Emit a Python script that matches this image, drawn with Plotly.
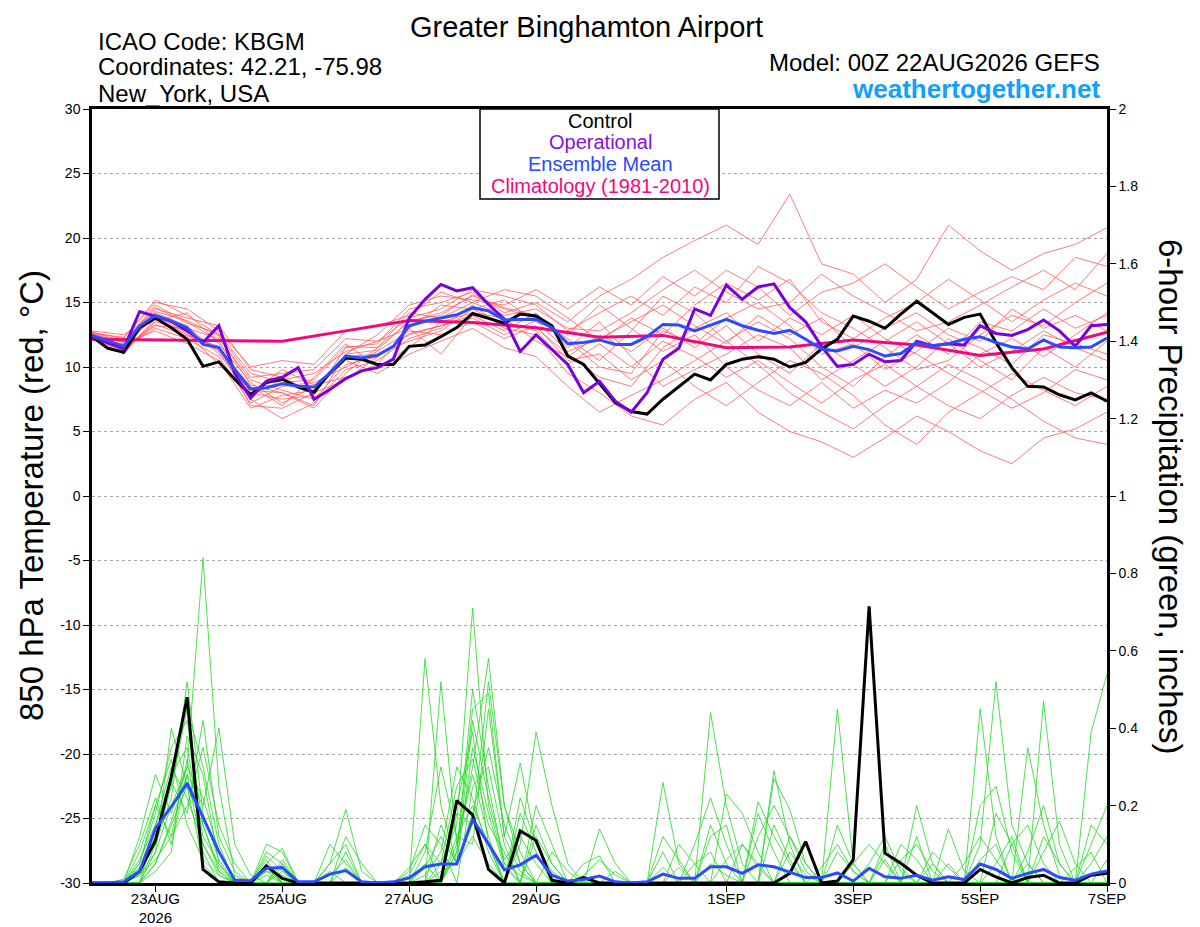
import pandas as pd
import plotly.graph_objects as go

# 6-hourly forecast steps, 00Z 22AUG2026 to 00Z 07SEP2026
times = pd.date_range("2026-08-22 00:00", periods=65, freq="6h")
times_12h = times[::2]
clim_days = pd.date_range("2026-08-22", periods=17, freq="D")

tick_dates = ["2026-08-23", "2026-08-25", "2026-08-27", "2026-08-29",
              "2026-09-01", "2026-09-03", "2026-09-05", "2026-09-07"]
tick_text = ["23AUG<br>2026", "25AUG", "27AUG", "29AUG", "1SEP", "3SEP", "5SEP", "7SEP"]

# 850 hPa temperature (C)
control_t = [12.35, 11.45, 11.15, 13.05, 13.8, 13.05, 12.15, 10.05, 10.4, 9.05, 7.85,
             8.8, 9.05, 8.45, 8.05, 9.55, 10.7, 10.6, 10.2, 10.2, 11.6, 11.7,
             12.35, 13.05, 14.15, 13.8, 13.4, 14.1, 13.95, 13.2, 10.85, 10.2, 8.7,
             7.25, 6.55, 6.35, 7.5, 8.45, 9.45, 9.0, 10.2, 10.6, 10.8, 10.6,
             10.0, 10.35, 11.4, 12.15, 13.95, 13.55, 13.0, 14.1, 15.1, 14.2, 13.3,
             13.85, 14.1, 11.9, 9.95, 8.5, 8.45, 7.85, 7.45, 8.0, 7.35]
oper_t = [12.35, 11.9, 11.4, 14.3, 13.9, 13.55, 12.8, 11.9, 13.2, 9.5, 7.6,
          8.9, 9.2, 9.95, 7.5, 8.25, 9.1, 9.7, 9.95, 10.6, 13.8, 15.25,
          16.4, 15.9, 16.15, 14.85, 13.7, 11.2, 12.5, 11.35, 10.2, 8.0, 8.9,
          7.35, 6.5, 8.0, 10.6, 11.45, 14.5, 14.0, 16.35, 15.25, 16.2, 16.45,
          14.6, 13.5, 11.6, 10.05, 10.2, 11.0, 10.4, 10.5, 12.0, 11.65, 11.8,
          11.7, 13.2, 12.6, 12.45, 12.9, 13.65, 12.8, 11.6, 13.2, 13.3]
mean_t = [12.45, 12.0, 11.6, 13.15, 14.0, 13.55, 13.05, 11.75, 11.5, 9.8, 8.3,
          8.4, 8.7, 8.5, 8.45, 9.55, 10.85, 10.7, 10.9, 11.6, 13.2, 13.55,
          13.8, 14.05, 14.6, 14.35, 13.65, 13.65, 13.7, 13.05, 11.8, 11.9, 12.1,
          11.75, 11.75, 12.35, 13.3, 13.25, 12.8, 13.25, 13.7, 13.2, 12.85, 12.6,
          12.85, 12.15, 11.4, 11.25, 11.6, 11.35, 10.85, 11.05, 11.9, 11.65, 11.8,
          12.15, 12.35, 11.9, 11.55, 11.4, 12.1, 11.55, 11.5, 11.55, 12.25]
clim_t = [12.15, 12.1, 12.05, 12.0, 12.8, 13.6, 13.45, 13.05, 12.3,
          12.45, 11.5, 11.55, 12.1, 11.7, 10.9, 11.4, 12.7]

# ensemble members, 12-hourly
member_t = [
    [12.6, 11.9, 14.8, 13.5, 12.0, 8.0, 7.5, 7.8, 11.5, 11.8, 14.5,
     15.0, 15.8, 14.2, 15.0, 13.5, 15.5, 16.8, 18.5, 19.8, 21.0, 19.5,
     23.4, 18.0, 17.2, 15.0, 16.8, 21.0, 19.0, 17.5, 18.8, 19.5, 20.8],
    [12.3, 11.2, 13.5, 12.8, 11.2, 7.5, 6.0, 7.2, 9.8, 10.5, 12.2,
     13.0, 14.8, 13.0, 12.5, 9.5, 8.0, 6.2, 5.5, 7.5, 8.8, 6.5,
     5.0, 4.2, 3.0, 4.5, 6.2, 5.0, 3.5, 2.5, 4.5, 5.2, 6.5],
    [12.7, 12.2, 15.2, 14.0, 12.5, 9.2, 9.5, 9.8, 12.2, 12.0, 13.8,
     14.5, 16.0, 15.5, 14.8, 12.8, 14.2, 15.5, 14.0, 16.2, 15.0, 17.8,
     16.5, 14.2, 13.0, 11.5, 9.8, 10.5, 12.5, 14.0, 13.2, 15.0, 16.5],
    [12.2, 11.5, 13.0, 12.2, 10.8, 7.2, 8.5, 8.8, 10.0, 11.2, 12.8,
     12.5, 13.5, 12.2, 13.2, 10.5, 11.0, 9.0, 10.5, 8.5, 7.0, 8.8,
     10.5, 9.5, 7.8, 5.5, 4.0, 6.5, 8.0, 9.5, 8.2, 7.0, 8.5],
    [12.5, 12.0, 14.5, 13.8, 13.2, 9.8, 9.2, 8.0, 11.0, 12.5, 14.8,
     15.5, 15.2, 14.8, 16.0, 14.5, 16.2, 14.8, 17.0, 15.5, 17.5, 16.2,
     14.0, 15.8, 16.5, 18.0, 16.2, 14.5, 15.8, 17.0, 16.0, 18.5, 17.8],
    [12.4, 11.0, 13.8, 12.5, 11.5, 8.5, 7.0, 9.2, 11.8, 10.0, 11.5,
     13.5, 14.2, 13.8, 12.0, 10.8, 12.5, 11.2, 13.0, 11.5, 13.2, 11.0,
     9.5, 11.8, 10.2, 8.5, 10.0, 12.2, 10.5, 9.0, 11.5, 10.0, 12.0],
    [12.8, 12.5, 14.2, 13.2, 11.0, 8.2, 8.0, 6.8, 9.5, 11.5, 13.5,
     14.2, 15.5, 14.5, 13.8, 12.2, 10.5, 12.8, 15.5, 14.2, 12.0, 13.5,
     12.2, 10.0, 8.5, 10.8, 12.5, 11.0, 13.5, 12.8, 14.5, 13.0, 14.0],
    [12.1, 11.8, 12.8, 11.8, 10.5, 6.8, 7.8, 8.2, 10.5, 9.5, 11.0,
     12.0, 13.0, 11.5, 10.8, 8.5, 6.5, 7.8, 9.0, 10.5, 12.0, 10.2,
     8.0, 6.5, 5.2, 7.0, 8.5, 10.2, 9.0, 7.5, 5.8, 4.5, 4.0],
    [12.6, 12.3, 15.0, 14.5, 12.8, 10.0, 10.5, 10.2, 12.8, 13.2, 14.0,
     15.8, 15.0, 16.0, 15.5, 13.8, 12.0, 13.8, 12.5, 14.8, 16.5, 15.2,
     16.8, 13.5, 12.2, 13.8, 15.0, 16.8, 15.2, 13.5, 15.2, 16.5, 15.5],
    [12.3, 11.4, 13.2, 13.0, 12.2, 9.0, 8.2, 7.5, 10.2, 10.8, 12.5,
     13.2, 14.0, 12.8, 14.2, 11.5, 13.5, 10.8, 8.5, 9.8, 11.0, 12.5,
     11.5, 9.0, 10.5, 12.0, 13.5, 11.8, 10.0, 11.2, 12.8, 11.5, 10.5],
    [12.5, 11.6, 14.0, 12.6, 10.2, 7.8, 9.0, 9.5, 11.2, 12.0, 13.0,
     14.8, 14.5, 13.2, 13.0, 11.0, 9.2, 8.5, 11.5, 13.0, 14.2, 12.0,
     13.8, 12.5, 14.0, 12.2, 11.0, 9.5, 8.2, 6.8, 8.0, 9.8, 9.0],
    [12.2, 11.3, 13.6, 14.2, 11.8, 8.8, 7.2, 8.5, 10.8, 11.0, 12.0,
     12.8, 14.5, 15.2, 13.5, 12.5, 14.8, 13.0, 11.2, 12.5, 10.0, 8.2,
     7.0, 8.8, 6.8, 8.2, 7.2, 8.8, 11.0, 12.2, 10.8, 12.5, 14.2],
    [12.7, 12.0, 14.6, 13.4, 12.6, 9.5, 8.8, 9.0, 11.6, 11.5, 14.2,
     13.8, 15.0, 14.0, 14.5, 13.0, 12.8, 14.2, 16.0, 17.5, 15.8, 14.5,
     15.0, 17.2, 15.5, 14.2, 12.8, 13.5, 14.8, 16.2, 17.5, 16.0, 18.8],
    [12.4, 11.7, 13.9, 12.9, 11.3, 8.0, 9.8, 8.6, 9.2, 10.2, 13.0,
     11.0, 14.0, 13.5, 12.8, 10.2, 11.8, 10.0, 12.0, 10.8, 9.2, 10.5,
     8.8, 7.2, 9.0, 10.2, 8.5, 7.0, 6.0, 7.8, 9.2, 8.0, 7.5],
    [12.5, 11.9, 14.3, 13.6, 12.4, 8.6, 8.0, 7.0, 11.0, 11.3, 13.6,
     14.0, 15.6, 14.6, 14.0, 12.0, 10.0, 9.5, 12.8, 11.8, 13.8, 15.0,
     13.2, 11.0, 11.8, 9.8, 11.2, 13.0, 12.0, 14.5, 13.0, 14.0, 12.8],
    [12.3, 11.5, 13.3, 12.4, 11.6, 7.0, 6.8, 8.0, 9.0, 10.8, 12.6,
     13.2, 13.8, 12.5, 13.6, 11.2, 12.2, 13.5, 14.8, 13.2, 11.8, 14.0,
     12.5, 13.8, 11.5, 13.0, 14.2, 12.5, 11.5, 10.2, 12.5, 11.8, 11.0],
]

# 6-hour precipitation (inches)
control_p = [0, 0, 0, 0.03, 0.11, 0.275, 0.48, 0.035, 0.003, 0, 0,
             0.044, 0.012, 0, 0, 0, 0, 0, 0, 0, 0, 0.003,
             0.007, 0.213, 0.176, 0.035, 0, 0.135, 0.11, 0.007, 0, 0.014, 0,
             0, 0, 0, 0, 0, 0, 0, 0, 0, 0, 0,
             0.025, 0.107, 0, 0.005, 0.06, 0.715, 0.077, 0.051, 0.02, 0, 0,
             0, 0.035, 0.016, 0, 0.014, 0.02, 0, 0, 0.02, 0.025]
mean_p = [0, 0, 0.003, 0.03, 0.141, 0.197, 0.258, 0.171, 0.081, 0.008, 0.006,
          0.038, 0.04, 0.003, 0.003, 0.023, 0.032, 0.003, 0, 0.003, 0.013, 0.042,
          0.049, 0.049, 0.165, 0.101, 0.034, 0.047, 0.072, 0.02, 0.005, 0.009, 0.018,
          0.003, 0, 0.003, 0.023, 0.012, 0.012, 0.042, 0.042, 0.025, 0.047, 0.042,
          0.029, 0.014, 0.014, 0.026, 0.005, 0.038, 0.016, 0.012, 0.02, 0.007, 0.016,
          0.009, 0.049, 0.035, 0.012, 0.025, 0.035, 0.014, 0.007, 0.023, 0.031]

# members: {step index: inches}, dry otherwise
member_p = [
    {3: 0.02, 4: 0.08, 5: 0.2, 6: 0.3, 7: 0.84, 8: 0.25, 9: 0.02, 11: 0.03, 20: 0.02, 21: 0.1,
     22: 0.05, 23: 0.15, 24: 0.71, 25: 0.2, 26: 0.05, 27: 0.02, 39: 0.05, 40: 0.02, 47: 0.45,
     48: 0.05, 56: 0.1, 57: 0.52, 58: 0.15, 59: 0.05},
    {3: 0.05, 4: 0.18, 5: 0.35, 6: 0.42, 7: 0.15, 8: 0.03, 11: 0.1, 12: 0.08, 21: 0.58, 22: 0.2,
     23: 0.05, 24: 0.12, 25: 0.05, 32: 0.02, 36: 0.26, 37: 0.05, 43: 0.29, 44: 0.1, 52: 0.2,
     53: 0.05, 63: 0.39, 64: 0.54},
    {2: 0.01, 3: 0.1, 4: 0.22, 5: 0.1, 6: 0.28, 7: 0.2, 8: 0.4, 9: 0.1, 10: 0.02, 15: 0.05,
     16: 0.19, 17: 0.03, 22: 0.52, 23: 0.1, 24: 0.3, 25: 0.58, 26: 0.2, 27: 0.05, 39: 0.44,
     40: 0.2, 41: 0.05, 50: 0.08, 51: 0.04, 60: 0.47, 61: 0.1},
    {3: 0.03, 4: 0.12, 5: 0.28, 6: 0.35, 7: 0.12, 8: 0.05, 12: 0.06, 23: 0.08, 24: 0.45,
     25: 0.49, 26: 0.12, 27: 0.31, 28: 0.1, 29: 0.02, 42: 0.21, 43: 0.12, 44: 0.05, 56: 0.45,
     57: 0.12, 59: 0.05},
    {4: 0.05, 5: 0.15, 6: 0.25, 7: 0.05, 11: 0.08, 12: 0.05, 15: 0.1, 16: 0.05, 21: 0.05,
     23: 0.2, 24: 0.39, 25: 0.1, 27: 0.1, 28: 0.39, 29: 0.2, 30: 0.05, 36: 0.08, 40: 0.23,
     41: 0.18, 42: 0.08, 59: 0.35, 60: 0.15, 61: 0.02},
    {3: 0.08, 4: 0.2, 5: 0.32, 6: 0.15, 7: 0.06, 8: 0.02, 11: 0.05, 12: 0.09, 16: 0.08,
     22: 0.05, 23: 0.25, 24: 0.32, 25: 0.15, 26: 0.08, 32: 0.14, 33: 0.05, 43: 0.27, 44: 0.19,
     45: 0.05, 51: 0.1, 52: 0.06, 54: 0.14, 55: 0.03, 63: 0.1, 64: 0.2},
    {4: 0.1, 5: 0.25, 6: 0.45, 7: 0.3, 8: 0.1, 11: 0.04, 20: 0.03, 21: 0.15, 22: 0.1, 24: 0.25,
     25: 0.3, 26: 0.1, 28: 0.12, 29: 0.05, 37: 0.1, 38: 0.05, 47: 0.15, 48: 0.05, 50: 0.1,
     52: 0.12, 57: 0.18, 58: 0.1},
    {3: 0.02, 4: 0.06, 5: 0.12, 6: 0.2, 7: 0.35, 8: 0.15, 9: 0.05, 12: 0.03, 16: 0.12,
     17: 0.05, 23: 0.12, 24: 0.2, 25: 0.1, 27: 0.18, 28: 0.08, 31: 0.05, 32: 0.07, 39: 0.12,
     40: 0.15, 42: 0.18, 43: 0.08, 53: 0.05, 56: 0.2, 57: 0.25, 58: 0.08},
    {4: 0.15, 5: 0.3, 6: 0.22, 7: 0.1, 8: 0.02, 11: 0.02, 15: 0.03, 21: 0.02, 22: 0.08,
     23: 0.3, 24: 0.22, 25: 0.08, 29: 0.08, 30: 0.03, 36: 0.04, 38: 0.1, 39: 0.22, 40: 0.1,
     49: 0.05, 50: 0.12, 51: 0.03, 60: 0.08, 61: 0.16, 62: 0.05},
    {3: 0.12, 4: 0.28, 5: 0.18, 6: 0.3, 7: 0.22, 8: 0.08, 12: 0.04, 20: 0.04, 21: 0.1,
     23: 0.08, 24: 0.5, 25: 0.25, 26: 0.05, 28: 0.2, 29: 0.1, 42: 0.12, 43: 0.2, 44: 0.12,
     45: 0.03, 53: 0.08, 54: 0.04, 63: 0.15, 64: 0.1},
    {4: 0.03, 5: 0.08, 6: 0.38, 7: 0.28, 8: 0.05, 11: 0.06, 15: 0.05, 16: 0.1, 22: 0.15,
     23: 0.05, 24: 0.18, 25: 0.35, 26: 0.15, 27: 0.05, 33: 0.03, 41: 0.1, 42: 0.05, 48: 0.05,
     49: 0.1, 50: 0.05, 58: 0.1, 59: 0.15, 60: 0.05},
    {3: 0.04, 4: 0.1, 5: 0.22, 6: 0.52, 7: 0.18, 8: 0.06, 11: 0.03, 12: 0.02, 22: 0.03,
     23: 0.05, 24: 0.42, 25: 0.22, 26: 0.06, 27: 0.12, 28: 0.05, 36: 0.12, 37: 0.06, 44: 0.08,
     45: 0.02, 55: 0.05, 56: 0.12, 57: 0.06, 62: 0.04, 63: 0.08},
    {4: 0.08, 5: 0.4, 6: 0.25, 7: 0.15, 8: 0.04, 16: 0.04, 21: 0.08, 22: 0.3, 23: 0.12,
     24: 0.1, 25: 0.45, 26: 0.12, 27: 0.03, 38: 0.05, 39: 0.08, 43: 0.15, 44: 0.06, 51: 0.06,
     52: 0.1, 53: 0.03, 60: 0.12, 61: 0.05},
    {3: 0.06, 4: 0.15, 5: 0.26, 6: 0.18, 7: 0.42, 8: 0.12, 9: 0.03, 11: 0.05, 23: 0.1,
     24: 0.28, 25: 0.12, 27: 0.22, 28: 0.1, 29: 0.03, 40: 0.06, 41: 0.1, 42: 0.04, 47: 0.08,
     48: 0.03, 56: 0.06, 57: 0.1, 64: 0.06},
    {4: 0.05, 5: 0.16, 6: 0.28, 7: 0.08, 12: 0.05, 15: 0.02, 16: 0.06, 23: 0.18, 24: 0.15,
     25: 0.52, 26: 0.2, 27: 0.08, 31: 0.02, 32: 0.06, 33: 0.02, 44: 0.12, 45: 0.05, 50: 0.06,
     54: 0.05, 59: 0.08, 60: 0.2, 61: 0.05},
    {3: 0.05, 4: 0.2, 5: 0.12, 6: 0.32, 7: 0.1, 8: 0.03, 11: 0.07, 12: 0.03, 21: 0.04,
     22: 0.12, 23: 0.05, 24: 0.35, 25: 0.18, 26: 0.04, 28: 0.15, 29: 0.05, 37: 0.04, 39: 0.15,
     40: 0.05, 46: 0.04, 47: 0.1, 48: 0.03, 57: 0.05, 58: 0.12, 63: 0.05, 64: 0.12},
]

FONT = "Liberation Sans, Arial, Helvetica, sans-serif"
BLACK = "#000000"
PURPLE = "#7a00dc"
BLUE = "#2a4cff"
PINK = "#f0087f"

fig = go.Figure()

for m in member_p:
    fig.add_trace(go.Scatter(x=times, y=[m.get(i, 0.0) for i in range(len(times))],
                             yaxis="y2", mode="lines", hoverinfo="skip",
                             line=dict(color="#22d822", width=0.8)))
for m in member_t:
    fig.add_trace(go.Scatter(x=times_12h[:len(m)], y=m, mode="lines", hoverinfo="skip",
                             line=dict(color="#ff5a5a", width=0.8)))

fig.add_trace(go.Scatter(x=clim_days, y=clim_t, mode="lines", line=dict(color=PINK, width=3)))
fig.add_trace(go.Scatter(x=times, y=control_t, mode="lines", line=dict(color=BLACK, width=3)))
fig.add_trace(go.Scatter(x=times, y=oper_t, mode="lines", line=dict(color=PURPLE, width=3)))
fig.add_trace(go.Scatter(x=times, y=mean_t, mode="lines", line=dict(color=BLUE, width=3)))
fig.add_trace(go.Scatter(x=times, y=control_p, yaxis="y2", mode="lines",
                         line=dict(color=BLACK, width=3)))
fig.add_trace(go.Scatter(x=times, y=mean_p, yaxis="y2", mode="lines",
                         line=dict(color=BLUE, width=3)))

temp_ticks = list(range(-30, 31, 5))
precip_ticks = [0, 0.2, 0.4, 0.6, 0.8, 1, 1.2, 1.4, 1.6, 1.8, 2]

# the page body adds an 8px offset, so the figure is 8px smaller than the window
fig.update_layout(
    width=1192, height=919,
    margin=dict(l=84, r=93, t=101, b=44),
    paper_bgcolor="white", plot_bgcolor="white",
    showlegend=False,
    font=dict(family=FONT, color="black"),
    xaxis=dict(type="date", range=[times[0], times[-1]],
               tickvals=tick_dates, ticktext=tick_text, automargin=False,
               ticks="outside", ticklen=6, tickwidth=1, tickcolor="black",
               ticklabelstandoff=-6,
               showline=True, linewidth=2.5, linecolor="black", mirror=True,
               showgrid=False, zeroline=False, tickfont=dict(size=15)),
    yaxis=dict(range=[-30, 30], tickvals=temp_ticks, ticktext=[str(v) for v in temp_ticks],
               ticks="outside", ticklen=6, tickwidth=1, tickcolor="black", automargin=False,
               showline=True, linewidth=2.5, linecolor="black",
               showgrid=True, gridcolor="#a8a8a8", griddash="dot", gridwidth=1,
               zeroline=False, tickfont=dict(size=14)),
    yaxis2=dict(range=[0, 2], overlaying="y", side="right", automargin=False,
                tickvals=precip_ticks, ticktext=[f"{v:g}" for v in precip_ticks],
                ticks="outside", ticklen=6, tickwidth=1, tickcolor="black",
                showline=True, linewidth=2.5, linecolor="black",
                showgrid=False, zeroline=False, tickfont=dict(size=14)),
)


# screen pixel -> paper coordinates (plot area spans x 92..1107, y 109..883 on screen)
def px(x):
    return (x - 92) / 1015


def py(y):
    return (883 - y) / 774


def label(text, x, y, size, color="black", xanchor="left", angle=0):
    fig.add_annotation(text=text, xref="paper", yref="paper", x=px(x), y=py(y),
                       xanchor=xanchor, yanchor="middle", showarrow=False,
                       textangle=angle, font=dict(family=FONT, size=size, color=color))


label("Greater Binghamton Airport", 586, 27, 29, xanchor="center")
label("ICAO Code: KBGM", 96, 41, 24)
label("Coordinates: 42.21, -75.98", 96, 67, 24)
label("New_York, USA", 96, 93, 24)
label("Model: 00Z 22AUG2026 GEFS", 1102, 63, 24, xanchor="right")
label("<b>weathertogether.net</b>", 1102, 89, 26, color="#12a0ff", xanchor="right")
label("850 hPa Temperature (red, °C)", 31, 496, 33, xanchor="center", angle=-90)
label("6-hour Precipitation (green, inches)", 1171, 496, 33, xanchor="center", angle=90)

# key box at top centre
fig.add_shape(type="rect", xref="paper", yref="paper",
              x0=px(480), x1=px(719), y0=py(199), y1=py(109),
              line=dict(color="black", width=1.5), fillcolor="white", layer="above")
label("Control", 600, 121, 20, color=BLACK, xanchor="center")
label("Operational", 600, 142, 20, color="#8a10e0", xanchor="center")
label("Ensemble Mean", 600, 164, 20, color="#2a48ff", xanchor="center")
label("Climatology (1981-2010)", 600, 186, 20, color="#f0087f", xanchor="center")

fig.write_html("out.html")
